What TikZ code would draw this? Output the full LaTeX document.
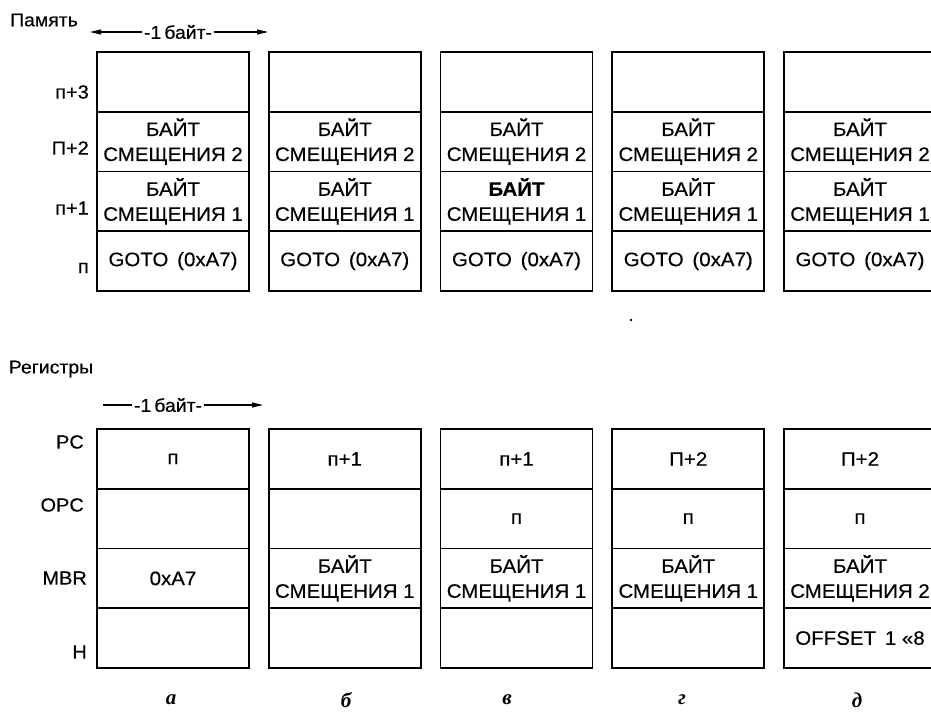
\documentclass[tikz,border=0pt]{standalone}
\usepackage{fontspec}
\setmainfont{Liberation Sans}[FakeStretch=1.05,FakeBold=0.4]
\newfontfamily\letfont{Liberation Serif}
\usetikzlibrary{arrows.meta}
\begin{document}
\begin{tikzpicture}[x=1pt,y=-1pt,
  cell/.style={draw, line width=1.6pt, minimum width=152pt, minimum height=59.75pt,
    inner sep=0pt, align=center, font=\fontsize{19.5}{25}\selectfont},
  lab/.style={font=\fontsize{19}{21}\selectfont, anchor=east, inner sep=0pt},
  title/.style={font=\fontsize{18.5}{21}\selectfont, inner sep=0pt},
  bytelab/.style={font=\fontsize{18.5}{21}\selectfont, inner sep=1.5pt},
  sublab/.style={font=\letfont\bfseries\itshape\fontsize{21}{23}\selectfont, inner sep=0pt},
  dim/.style={line width=1.1pt, -{Triangle[length=11pt,width=5pt]}}]
\useasboundingbox (0,0) rectangle (931,714);
\clip (0,0) rectangle (931,714);

% ---------- titles ----------
\node[title] (mem) at (44,20) {Память};
\node[title] (reg) at (51,369) {Регистры};

% ---------- byte arrows ----------
\coordinate (ta) at (90,32);
\coordinate (tb) at (268,32);
\node[bytelab] (tt) at (178,32) {-1\,байт-};
\draw[dim] (tt.west) -- (ta);
\draw[dim] (tt.east) -- (tb);

\coordinate (ba) at (103,405);
\coordinate (bb) at (263,405);
\node[bytelab] (bt) at (168,405) {-1\,байт-};
\draw[line width=1.1pt] (bt.west) -- (ba);
\draw[dim] (bt.east) -- (bb);

% ---------- memory row labels ----------
\node[lab] (ln3) at (89,92) {п+3};
\node[lab] (ln2) at (89,148) {П+2};
\node[lab] (ln1) at (89,208) {п+1};
\node[lab] (ln0) at (89,268) {п};

% ---------- memory cells ----------
\foreach \c/\x in {1/173,2/344.75,3/516.5,4/688.25,5/860}{
  \node[cell] (m\c-3) at (\x,81.9) {};
  \node[cell] (m\c-2) at (\x,141.6) {БАЙТ\\СМЕЩЕНИЯ 2};
  \ifnum\c=3
    \node[cell] (m\c-1) at (\x,201.4) {\textbf{БАЙТ}\\СМЕЩЕНИЯ 1};
  \else
    \node[cell] (m\c-1) at (\x,201.4) {БАЙТ\\СМЕЩЕНИЯ 1};
  \fi
  \node[cell] (m\c-0) at (\x,261.1) {GOTO\hspace{0.45em}(0xA7)};
}

% stray mark
\fill (631,320) circle (1.3pt);

% ---------- register labels ----------
\node[lab] (lpc) at (84,442) {PC};
\node[lab] (lopc) at (84,505) {OPC};
\node[lab] (lmbr) at (87,578) {MBR};
\node[lab] (lh) at (87,652) {H};

% ---------- register cells ----------
% column a
\node[cell] (r1-pc) at (173,458.9) {п};
\node[cell] (r1-opc) at (173,518.6) {};
\node[cell] (r1-mbr) at (173,578.4) {0xA7};
\node[cell] (r1-h) at (173,638.1) {};
% column b
\node[cell] (r2-pc) at (344.75,458.9) {п+1};
\node[cell] (r2-opc) at (344.75,518.6) {};
\node[cell] (r2-mbr) at (344.75,578.4) {БАЙТ\\СМЕЩЕНИЯ 1};
\node[cell] (r2-h) at (344.75,638.1) {};
% column c
\node[cell] (r3-pc) at (516.5,458.9) {п+1};
\node[cell] (r3-opc) at (516.5,518.6) {п};
\node[cell] (r3-mbr) at (516.5,578.4) {БАЙТ\\СМЕЩЕНИЯ 1};
\node[cell] (r3-h) at (516.5,638.1) {};
% column d
\node[cell] (r4-pc) at (688.25,458.9) {П+2};
\node[cell] (r4-opc) at (688.25,518.6) {п};
\node[cell] (r4-mbr) at (688.25,578.4) {БАЙТ\\СМЕЩЕНИЯ 1};
\node[cell] (r4-h) at (688.25,638.1) {};
% column e
\node[cell] (r5-pc) at (860,458.9) {П+2};
\node[cell] (r5-opc) at (860,518.6) {п};
\node[cell] (r5-mbr) at (860,578.4) {БАЙТ\\СМЕЩЕНИЯ 2};
\node[cell] (r5-h) at (860,638.1) {OFFSET\hspace{0.45em}1 «8};

% ---------- sub-figure letters ----------
\node[sublab] (sa) at (171,700) {а};
\node[sublab] (sb) at (346,700) {б};
\node[sublab] (sc) at (507,700) {в};
\node[sublab] (sd) at (682,700) {г};
\node[sublab] (se) at (857,700) {д};
\end{tikzpicture}
\end{document}
